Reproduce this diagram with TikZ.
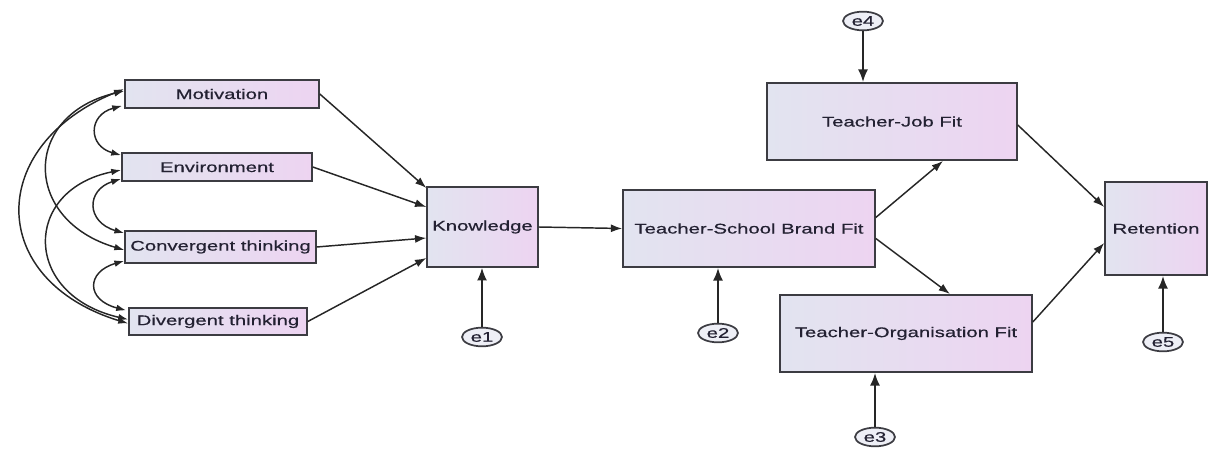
\documentclass[tikz,border=0pt]{standalone}
\usepackage{fontspec}
\newfontfamily\semfont[FakeStretch=1.45,FakeBold=0.6]{Liberation Sans}
\usepackage{tikz}
\usetikzlibrary{shapes.geometric}
\usetikzlibrary{arrows.meta}
\usetikzlibrary{calc}

\definecolor{boxleft}{RGB}{226,228,240}
\definecolor{boxright}{RGB}{237,212,241}
\definecolor{boxline}{RGB}{60,60,66}
\definecolor{boxtext}{RGB}{35,33,50}

\begin{document}
\begin{tikzpicture}[x=0.75pt,y=0.75pt,yscale=-1,xscale=1,
  var/.style={draw=boxline,line width=1.2pt,rectangle,left color=boxleft,right color=boxright,
    text=boxtext,font=\semfont\fontsize{10.5}{12}\selectfont,inner sep=0pt},
  err/.style={draw=boxline,line width=1.3pt,ellipse,fill=boxleft!60,minimum width=30pt,minimum height=14pt,
    inner sep=0pt,text=boxtext,font=\semfont\fontsize{10.5}{12}\selectfont},
  path/.style={draw=black!85,line width=1.1pt,-{Latex[length=8.5pt,width=6pt]}},
  errpath/.style={draw=black!85,line width=1.3pt,-{Latex[length=9.5pt,width=7.5pt]}},
  covar/.style={draw=black!85,line width=1.1pt,{Latex[length=7.5pt,width=5pt]}-{Latex[length=7.5pt,width=5pt]}}]
\useasboundingbox (0,0) rectangle (1208,449);

% exogenous variables
\node[var,minimum width=145.5pt,minimum height=21pt] (mot) at (222,94) {Motivation};
\node[var,minimum width=142.5pt,minimum height=21pt] (env) at (217,167) {Environment};
\node[var,minimum width=143pt,minimum height=24pt] (conv) at (220.5,247) {Convergent thinking};
\node[var,minimum width=133.5pt,minimum height=20pt] (div) at (218,321.5) {Divergent thinking};

% endogenous variables
\node[var,minimum width=83pt,minimum height=60pt] (know) at (482.5,227) {Knowledge};
\node[var,minimum width=189pt,minimum height=58pt] (tsbf) at (749,228.5) {Teacher-School Brand Fit};
\node[var,minimum width=187.5pt,minimum height=58pt] (tjf) at (892,121.5) {Teacher-Job Fit};
\node[var,minimum width=189pt,minimum height=58pt] (tof) at (906,333.5) {Teacher-Organisation Fit};
\node[var,minimum width=76.5pt,minimum height=70pt] (ret) at (1156,228.5) {Retention};

% error terms
\node[err] (e1) at (482,337) {e1};
\node[err] (e2) at (718,333) {e2};
\node[err] (e3) at (875,437) {e3};
\node[err] (e4) at (863,21) {e4};
\node[err] (e5) at (1163,342) {e5};

% covariances
\draw[covar] ($(mot.south west)+(-2,-3)$) .. controls (88,115) and (88,146) .. ($(env.north west)+(0,3)$);
\draw[covar] ($(env.south west)+(0,-3)$) .. controls (86,190) and (86,222) .. ($(conv.north west)+(0,3)$);
\draw[covar] ($(conv.south west)+(0,-3)$) .. controls (86,272) and (86,300) .. ($(div.north west)+(-2,3)$);
\draw[covar] ($(mot.west)+(0,-3)$) .. controls (22,115) and (22,220) .. ($(conv.west)+(0,3)$);
\draw[covar] ($(env.west)+(0,3)$) .. controls (22,190) and (22,295) .. ($(div.west)+(0,-2)$);
\draw[covar] ($(mot.west)+(0,-5)$) .. controls (-14,145) and (-14,280) .. ($(div.west)+(0,2)$);

% regression paths
\draw[path] (mot.east) -- ($(know.west)+(0,-39)$);
\draw[path] (env.east) -- ($(know.west)+(0,-20)$);
\draw[path] (conv.east) -- ($(know.west)+(0,11)$);
\draw[path] (div.east) -- ($(know.west)+(0,31)$);
\draw[path] (know.east) -- (tsbf.west);
\draw[path] ($(tsbf.east)+(0,-11)$) -- ($(tjf.south)+(51,0)$);
\draw[path] ($(tsbf.east)+(0,10)$) -- ($(tof.north)+(44,0)$);
\draw[path] ($(tjf.east)+(0,3.5)$) -- ($(ret.west)+(0,-21.5)$);
\draw[path] ($(tof.east)+(0,-11.5)$) -- ($(ret.west)+(0,14.5)$);

% error paths
\draw[errpath] (e1.north) -- (e1.north |- know.south);
\draw[errpath] (e2.north) -- (e2.north |- tsbf.south);
\draw[errpath] (e3.north) -- (e3.north |- tof.south);
\draw[errpath] (e4.south) -- (e4.south |- tjf.north);
\draw[errpath] (e5.north) -- (e5.north |- ret.south);

\end{tikzpicture}
\end{document}
